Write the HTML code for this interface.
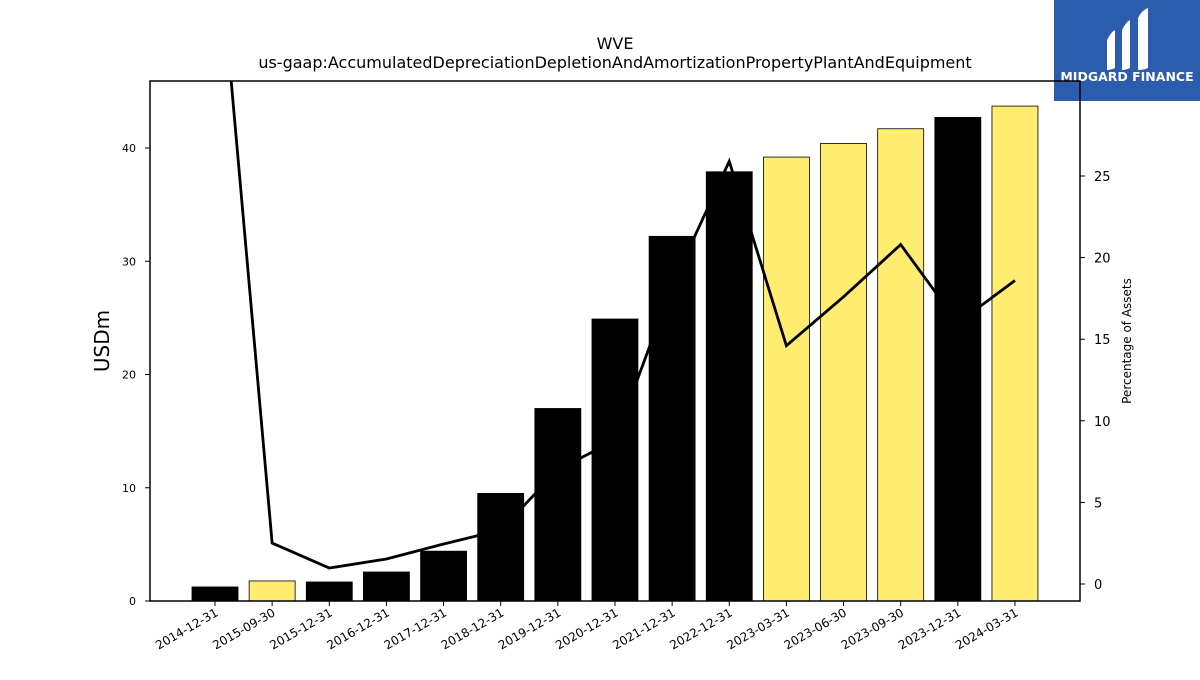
<!DOCTYPE html>
<html><head><meta charset="utf-8"><style>
body{margin:0;background:#fff;width:1200px;height:675px;overflow:hidden;font-family:"Liberation Sans",sans-serif}
svg text{font-family:"DejaVu Sans","Liberation Sans",sans-serif}
</style></head><body>
<svg id="c" width="1200" height="675">
<rect x="1054" y="0" width="146" height="101" fill="#2b5cad"/>
<g fill="#fff">
<path d="M1107,40 q4,-8 8,-10 v38 q-4,2 -8,2 z"/>
<path d="M1122,30 q4,-8 8,-10 v48 q-4,2 -8,2 z M1122,45 l4,-4 l4,4 v6 l-4,-4 l-4,4 z"/>
<path d="M1138,18 q4,-8 10,-10 v60 q-4,2 -10,2 z"/>
</g>
<text x="1127" y="81" text-anchor="middle" fill="#fff" font-size="12.5" font-weight="bold">MIDGARD FINANCE</text>
<text x="615" y="49" text-anchor="middle" font-size="16">WVE</text>
<text x="615" y="68" text-anchor="middle" font-size="16">us-gaap:AccumulatedDepreciationDepletionAndAmortizationPropertyPlantAndEquipment</text>
<text transform="translate(109,341) rotate(-90)" text-anchor="middle" font-size="20">USDm</text>
<text transform="translate(1131,341) rotate(-90)" text-anchor="middle" font-size="12">Percentage of Assets</text>
<g id="g"></g>
</svg>
<script>
const categories=["2014-12-31","2015-09-30","2015-12-31","2016-12-31","2017-12-31","2018-12-31","2019-12-31","2020-12-31","2021-12-31","2022-12-31","2023-03-31","2023-06-30","2023-09-30","2023-12-31","2024-03-31"];
const barValues=[1.24,1.77,1.68,2.56,4.4,9.5,17.0,24.9,32.2,37.9,39.2,40.4,41.7,42.7,43.7];
const pctValues=[42,2.51,0.98,1.53,2.45,3.3,7.0,8.8,18.3,25.9,14.6,17.6,20.8,16.0,18.6];
const leftTicks=[0,10,20,30,40];
const rightTicks=[0,5,10,15,20,25];
const NS="http://www.w3.org/2000/svg",g=document.getElementById('g');
const L=150,R=1080,T=81,B=601;
const x=i=>215+i*57.14;
const y=v=>601-v*11.325;
const y2=v=>584-v*16.32;
function el(t,a,p){const e=document.createElementNS(NS,t);for(const k in a)e.setAttribute(k,a[k]);(p||g).appendChild(e);return e;}
const defs=el('defs',{});const cp=el('clipPath',{id:'cp'},defs);el('rect',{x:L,y:T,width:R-L,height:B-T},cp);
categories.forEach((c,i)=>{
 const q=!c.endsWith('12-31');
 const v=barValues[i];
 const b=el('rect',{x:x(i)-23,y:y(v),width:46,height:y(0)-y(v),fill:q?'#ffec70':'#000',stroke:'#000','stroke-width':0.8});
 
 
 el('line',{x1:x(i),x2:x(i),y1:B,y2:B+5,stroke:'#000'});
 const t=el('text',{transform:`translate(${x(i)+4},${B+14}) rotate(-30)`,'text-anchor':'end','font-size':12});
 t.textContent=c;
 
 
});
const pl=el('polyline',{points:pctValues.map((v,i)=>x(i)+','+y2(v)).join(' '),fill:'none',stroke:'#000','stroke-width':2.8,'clip-path':'url(#cp)'});


const fr=el('rect',{x:L,y:T,width:R-L,height:B-T,fill:'none',stroke:'#000','stroke-width':1.5});


leftTicks.forEach(v=>{
 el('line',{x1:L-5,x2:L,y1:y(v),y2:y(v),stroke:'#000'});
 const t=el('text',{x:L-14,y:y(v)+4,'text-anchor':'end','font-size':11});
 t.textContent=v;
 
 
});
rightTicks.forEach(v=>{
 el('line',{x1:R,x2:R+5,y1:y2(v),y2:y2(v),stroke:'#000'});
 const t=el('text',{x:R+14,y:y2(v)+5,'font-size':13});
 t.textContent=v;
 
 
});
</script>
</body></html>
